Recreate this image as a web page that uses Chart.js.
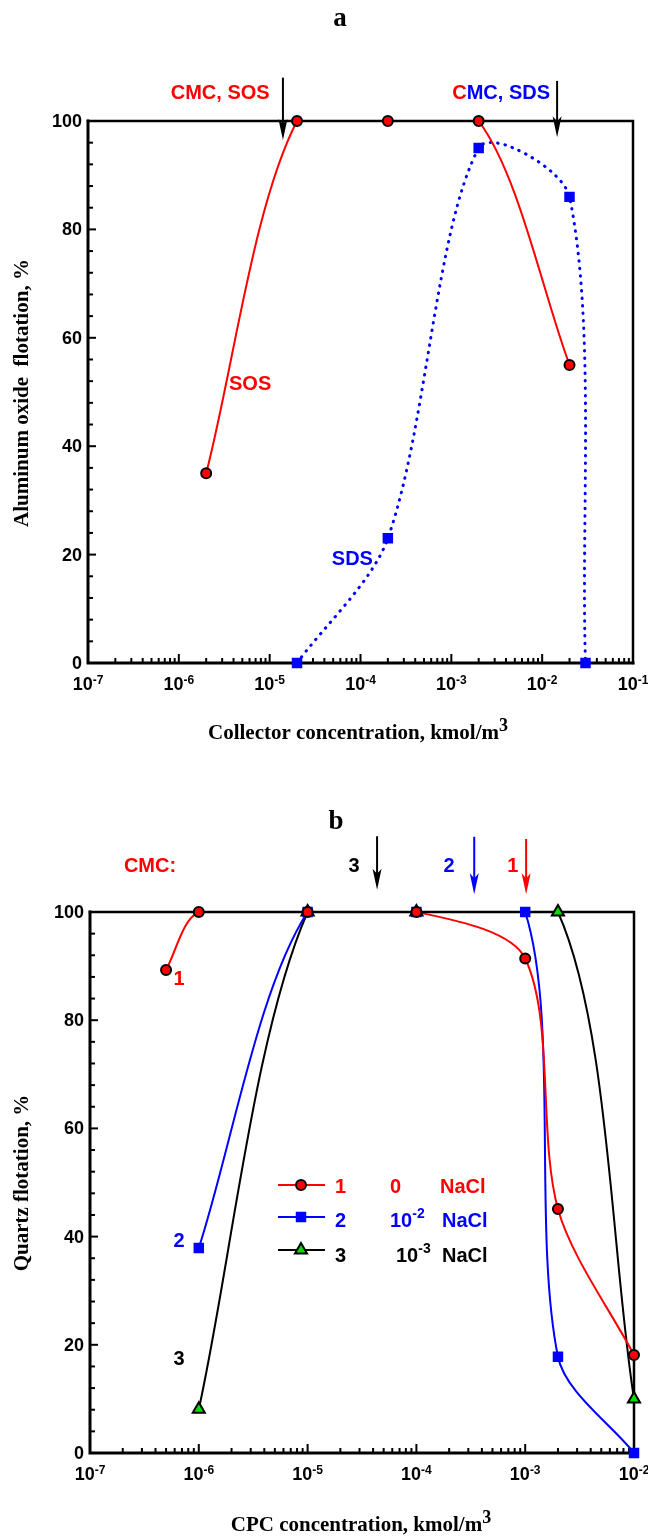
<!DOCTYPE html>
<html>
<head>
<meta charset="utf-8">
<title>Flotation vs collector concentration</title>
<script src="https://cdn.jsdelivr.net/npm/chart.js@4.4.1/dist/chart.umd.min.js"></script>
<style>
  html, body { margin: 0; padding: 0; background: #fff; }
  canvas { display: block; }
</style>
</head>
<body>
<canvas id="panelA" width="648" height="768"></canvas>
<canvas id="panelB" width="648" height="769"></canvas>
<script>
// ---- panel a : aluminum oxide with SOS / SDS ----
const sosConc = [2e-6, 2e-5, 2e-4, 2e-3, 2e-2];
const sosFlot = [35, 100, 100, 100, 55];
const sdsConc = [2e-5, 2e-4, 2e-3, 2e-2, 3e-2];
const sdsFlot = [0, 23, 95, 86, 0];
const cmcA = [1.4e-5, 1.46e-2];            // SOS, SDS

// ---- panel b : quartz with CPC, three NaCl levels ----
const cpc1Conc = [5e-7, 1e-6, 1e-5, 1e-4, 1e-3, 2e-3, 1e-2];
const cpc1Flot = [89.3, 100, 100, 100, 91.4, 45.1, 18.1];
const cpc2Conc = [1e-6, 1e-5, 1e-4, 1e-3, 2e-3, 1e-2];
const cpc2Flot = [37.9, 100, 100, 100, 17.8, 0];
const cpc3Conc = [1e-6, 1e-5, 1e-4, 2e-3, 1e-2];
const cpc3Flot = [8.1, 100, 100, 100, 10];
const cmcB = [1.02e-3, 3.4e-4, 4.35e-5];   // curves 1, 2, 3

// axis ticks
const expA = [-7, -6, -5, -4, -3, -2, -1];
const expB = [-7, -6, -5, -4, -3, -2];
const yTicks = [0, 20, 40, 60, 80, 100];

const RED = '#ff0000', BLUE = '#0000ff', BLACK = '#000000', GREEN = '#00dd00';
const SANS = '"Liberation Sans", Arial, sans-serif';
const SERIF = '"Liberation Serif", "Times New Roman", serif';
const F_TICK = 'bold 18px ' + SANS;
const F_SUP = 'bold 12px ' + SANS;
const F_NOTE = 'bold 20px ' + SANS;
const F_NOTE_SUP = 'bold 14px ' + SANS;
const F_AXIS = 'bold 21px ' + SERIF;
const F_AXIS_SUP = 'bold 18px ' + SERIF;
const F_PANEL = 'bold 27px ' + SERIF;

const xy = (xs, ys) => xs.map((v, i) => ({x: v, y: ys[i]}));

function curve(xs, ys, color, dash) {
	return {
		data: xy(xs, ys),
		borderColor: color,
		borderWidth: dash ? 3 : 2,
		borderDash: dash || [],
		borderCapStyle: dash ? 'round' : 'butt',
		tension: 0.3,
		pointRadius: 0,
		pointHoverRadius: 0
	};
}

function marks(xs, ys, style, fill, edge, r) {
	return {
		data: xy(xs, ys),
		showLine: false,
		clip: false,
		pointStyle: style,
		pointRadius: r,
		pointHoverRadius: r,
		pointBackgroundColor: fill,
		pointBorderColor: edge,
		pointBorderWidth: 2
	};
}

function seg(ctx, x1, y1, x2, y2) {
	ctx.beginPath();
	ctx.moveTo(x1, y1);
	ctx.lineTo(x2, y2);
	ctx.stroke();
}

// text made of several runs (colour / size / raised superscripts)
function drawParts(ctx, parts, x, y, align) {
	let w = 0;
	parts.forEach(p => { ctx.font = p.font; w += ctx.measureText(p.t).width; });
	let cx = align === 'right' ? x - w : align === 'center' ? x - w / 2 : x;
	ctx.textAlign = 'left';
	ctx.textBaseline = 'alphabetic';
	parts.forEach(p => {
		ctx.font = p.font;
		ctx.fillStyle = p.color || BLACK;
		ctx.fillText(p.t, cx, y + (p.dy || 0));
		cx += ctx.measureText(p.t).width;
	});
}

function arrow(ctx, px, yTop, yTip, color) {
	ctx.strokeStyle = color;
	ctx.fillStyle = color;
	ctx.lineWidth = 2;
	seg(ctx, px, yTop, px, yTip - 12);
	ctx.beginPath();
	ctx.moveTo(px, yTip);
	ctx.lineTo(px - 4.5, yTip - 21);
	ctx.lineTo(px, yTip - 16);
	ctx.lineTo(px + 4.5, yTip - 21);
	ctx.closePath();
	ctx.fill();
}

function marker(ctx, style, x, y, r, fill, edge) {
	ctx.beginPath();
	if (style === 'circle') {
		ctx.arc(x, y, r, 0, Math.PI * 2);
	} else if (style === 'rect') {
		const s = r * Math.SQRT1_2;
		ctx.rect(x - s, y - s, 2 * s, 2 * s);
	} else {
		ctx.moveTo(x, y - r);
		ctx.lineTo(x + 0.866 * r, y + 0.5 * r);
		ctx.lineTo(x - 0.866 * r, y + 0.5 * r);
		ctx.closePath();
	}
	ctx.fillStyle = fill;
	ctx.fill();
	ctx.lineWidth = 2;
	ctx.strokeStyle = edge;
	ctx.stroke();
}

// box, inward ticks (drawn between the curves and the markers)
function drawFrame(chart, spec) {
	const {ctx, chartArea: a, scales: {x, y}} = chart;
	ctx.save();
	ctx.strokeStyle = BLACK;
	ctx.lineCap = 'square';
	ctx.lineWidth = 2.5;
	ctx.beginPath();
	ctx.moveTo(a.left, a.top);
	ctx.lineTo(a.right, a.top);
	ctx.lineTo(a.right, a.bottom);
	ctx.stroke();
	ctx.lineWidth = 3;
	ctx.beginPath();
	ctx.moveTo(a.left, a.top);
	ctx.lineTo(a.left, a.bottom);
	ctx.lineTo(a.right, a.bottom);
	ctx.stroke();

	ctx.lineCap = 'butt';
	ctx.lineWidth = 2;
	for (let v = 0; v <= 100; v += 4) {
		const py = y.getPixelForValue(v);
		seg(ctx, a.left, py, a.left + (v % 20 ? 5 : 8), py);
	}
	const ex = spec.exps;
	for (let e = ex[0]; e < ex[ex.length - 1]; e++) {
		for (let m = 1; m < 10; m++) {
			const px = x.getPixelForValue(m * Math.pow(10, e));
			seg(ctx, px, a.bottom, px, a.bottom - (m === 1 ? 9 : 5));
		}
	}
	ctx.restore();
}

function drawAxisText(chart, spec) {
	const {ctx, chartArea: a, scales: {x, y}} = chart;
	ctx.save();
	ctx.fillStyle = BLACK;
	ctx.font = F_TICK;
	ctx.textAlign = 'right';
	ctx.textBaseline = 'middle';
	yTicks.forEach(v => ctx.fillText(String(v), a.left - 6, y.getPixelForValue(v) + 1));

	spec.exps.forEach(e => {
		const px = x.getPixelForValue(Math.pow(10, e));
		drawParts(ctx, [
			{t: '10', font: F_TICK},
			{t: String(e), font: F_SUP, dy: -6}
		], px, a.bottom + 27, 'center');
	});

	drawParts(ctx, [
		{t: spec.xTitle, font: F_AXIS},
		{t: '3', font: F_AXIS_SUP, dy: -8}
	], spec.xTitleX, spec.xTitleY, 'center');

	ctx.save();
	ctx.translate(23, spec.yTitleY);
	ctx.rotate(-Math.PI / 2);
	ctx.font = F_AXIS;
	ctx.textAlign = 'center';
	ctx.textBaseline = 'middle';
	ctx.fillText(spec.yTitle, 0, 0);
	ctx.restore();

	ctx.font = F_PANEL;
	ctx.textAlign = 'center';
	ctx.textBaseline = 'middle';
	ctx.fillText(spec.panel, spec.panelX, spec.panelY);
	ctx.restore();
}

function drawNotes(chart, spec) {
	const {ctx, scales: {x, y}} = chart;
	ctx.save();
	spec.arrows.forEach(r => {
		arrow(ctx, x.getPixelForValue(r.x), y.getPixelForValue(r.top), y.getPixelForValue(r.tip), r.color);
	});
	spec.notes.forEach(n => {
		drawParts(ctx, n.parts, x.getPixelForValue(n.x), y.getPixelForValue(n.y) + 7, n.align);
	});
	ctx.restore();
}

function drawLegend(chart, rows) {
	const ctx = chart.ctx;
	ctx.save();
	rows.forEach(r => {
		ctx.strokeStyle = r.color;
		ctx.lineWidth = 2;
		seg(ctx, 278, r.lineY, 325, r.lineY);
		marker(ctx, r.style, 301, r.lineY, r.r, r.fill, r.edge);
		drawParts(ctx, [{t: r.num, font: F_NOTE, color: r.color}], 335, r.textY + 7, 'left');
		drawParts(ctx, r.conc, r.concX, r.textY + 7, 'left');
		drawParts(ctx, [{t: 'NaCl', font: F_NOTE, color: r.color}], r.saltX, r.textY + 7, 'left');
	});
	ctx.restore();
}

function decor(spec) {
	return {
		id: 'decor',
		afterDatasetDraw(chart, args) {
			if (args.index === spec.frameAfter) drawFrame(chart, spec);
		},
		afterDraw(chart) {
			drawAxisText(chart, spec);
			drawNotes(chart, spec);
			if (spec.legend) drawLegend(chart, spec.legend);
		}
	};
}

function makeChart(id, datasets, padding, xMax, spec) {
	return new Chart(document.getElementById(id), {
		type: 'line',
		data: {datasets: datasets},
		options: {
			responsive: false,
			maintainAspectRatio: false,
			animation: false,
			events: [],
			layout: {padding: padding},
			plugins: {legend: {display: false}, tooltip: {enabled: false}},
			scales: {
				x: {type: 'logarithmic', min: 1e-7, max: xMax, display: false},
				y: {type: 'linear', min: 0, max: 100, display: false}
			}
		},
		plugins: [decor(spec)]
	});
}

// markers first (drawn last, on top), then the curves
const chartA = makeChart('panelA', [
	marks(sosConc, sosFlot, 'circle', RED, BLACK, 5),
	marks(sdsConc, sdsFlot, 'rect', BLUE, BLUE, 6),
	curve(sosConc, sosFlot, RED),
	curve(sdsConc, sdsFlot, BLUE, [0.5, 7])
], {left: 88, right: 15, top: 121, bottom: 105}, 1e-1, {
	frameAfter: 2,
	exps: expA,
	panel: 'a', panelX: 340, panelY: 19,
	xTitle: 'Collector concentration, kmol/m', xTitleX: 358, xTitleY: 739,
	yTitle: 'Aluminum oxide  flotation, %', yTitleY: 393,
	arrows: [
		{x: cmcA[0], top: 108, tip: 96.5, color: BLACK},
		{x: cmcA[1], top: 107.4, tip: 97, color: BLACK}
	],
	notes: [
		{x: 1e-5, y: 105.4, align: 'right', parts: [{t: 'CMC, SOS', font: F_NOTE, color: RED}]},
		{x: 1.22e-2, y: 105.4, align: 'right', parts: [
			{t: 'C', font: F_NOTE, color: RED},
			{t: 'MC, SDS', font: F_NOTE, color: BLUE}
		]},
		{x: 3.57e-6, y: 51.7, align: 'left', parts: [{t: 'SOS', font: F_NOTE, color: RED}]},
		{x: 1.37e-4, y: 19.4, align: 'right', parts: [{t: 'SDS', font: F_NOTE, color: BLUE}]}
	]
});

const chartB = makeChart('panelB', [
	marks(cpc1Conc, cpc1Flot, 'circle', RED, BLACK, 5),
	marks(cpc2Conc, cpc2Flot, 'rect', BLUE, BLUE, 6),
	marks(cpc3Conc, cpc3Flot, 'triangle', GREEN, BLACK, 7),
	curve(cpc1Conc, cpc1Flot, RED),
	curve(cpc2Conc, cpc2Flot, BLUE),
	curve(cpc3Conc, cpc3Flot, BLACK)
], {left: 90, right: 14, top: 144, bottom: 84}, 1e-2, {
	frameAfter: 3,
	exps: expB,
	panel: 'b', panelX: 336, panelY: 54,
	xTitle: 'CPC concentration, kmol/m', xTitleX: 361, xTitleY: 763,
	yTitle: 'Quartz flotation, %', yTitleY: 415,
	arrows: [
		{x: cmcB[2], top: 114, tip: 104.1, color: BLACK},
		{x: cmcB[1], top: 113.9, tip: 103.3, color: BLUE},
		{x: cmcB[0], top: 113.5, tip: 103.3, color: RED}
	],
	notes: [
		{x: 2.05e-7, y: 108.7, align: 'left', parts: [{t: 'CMC:', font: F_NOTE, color: RED}]},
		{x: 2.67e-5, y: 108.7, align: 'center', parts: [{t: '3', font: F_NOTE, color: BLACK}]},
		{x: 2.0e-4, y: 108.7, align: 'center', parts: [{t: '2', font: F_NOTE, color: BLUE}]},
		{x: 7.7e-4, y: 108.7, align: 'center', parts: [{t: '1', font: F_NOTE, color: RED}]},
		{x: 6.58e-7, y: 87.8, align: 'center', parts: [{t: '1', font: F_NOTE, color: RED}]},
		{x: 6.58e-7, y: 39.4, align: 'center', parts: [{t: '2', font: F_NOTE, color: BLUE}]},
		{x: 6.58e-7, y: 17.6, align: 'center', parts: [{t: '3', font: F_NOTE, color: BLACK}]}
	],
	legend: [
		{num: '1', color: RED, style: 'circle', r: 5, fill: RED, edge: BLACK, lineY: 417, textY: 418,
			concX: 390, saltX: 440, conc: [{t: '0', font: F_NOTE, color: RED}]},
		{num: '2', color: BLUE, style: 'rect', r: 6, fill: BLUE, edge: BLUE, lineY: 449, textY: 452,
			concX: 390, saltX: 442, conc: [{t: '10', font: F_NOTE, color: BLUE}, {t: '-2', font: F_NOTE_SUP, color: BLUE, dy: -9}]},
		{num: '3', color: BLACK, style: 'triangle', r: 7, fill: GREEN, edge: BLACK, lineY: 482, textY: 487,
			concX: 396, saltX: 442, conc: [{t: '10', font: F_NOTE, color: BLACK}, {t: '-3', font: F_NOTE_SUP, color: BLACK, dy: -9}]}
	]
});
</script>
</body>
</html>
